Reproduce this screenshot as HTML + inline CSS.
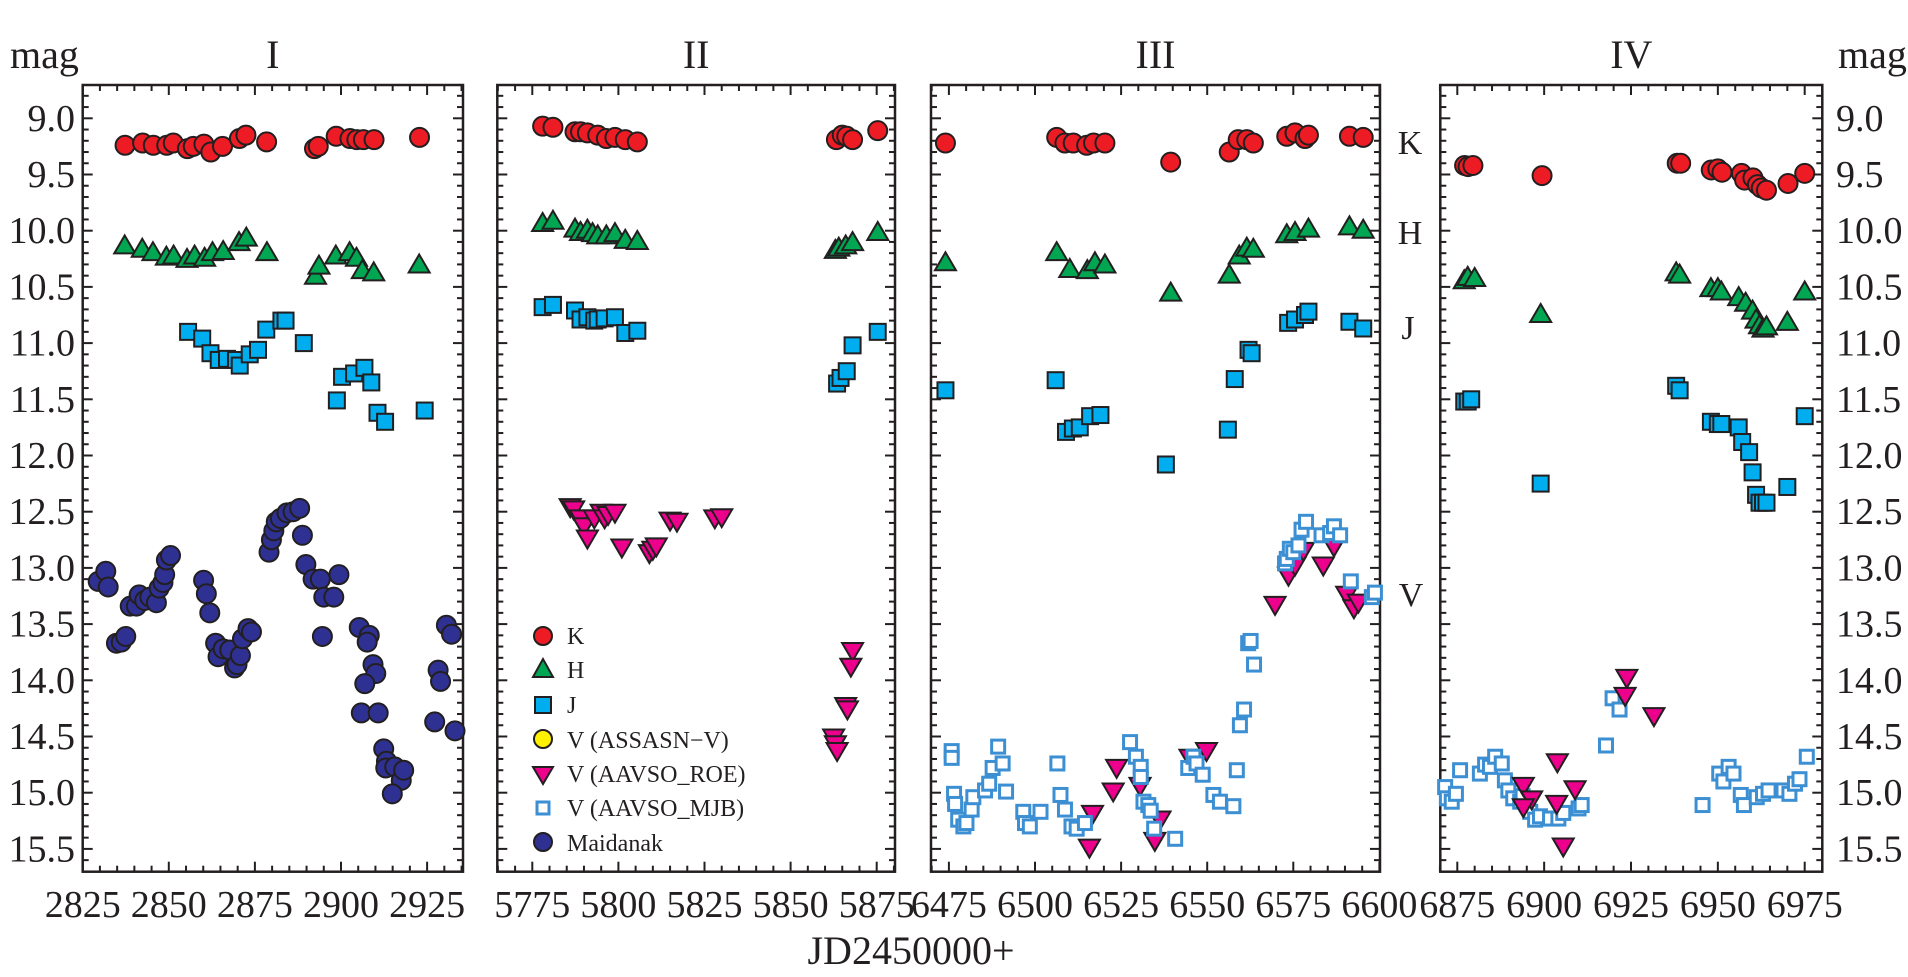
<!DOCTYPE html>
<html><head><meta charset="utf-8">
<style>
html,body{margin:0;padding:0;background:#fff;}
svg{display:block;font-family:"Liberation Serif",serif;}
</style></head>
<body>
<svg id="chart" width="1908" height="977" viewBox="0 0 1908 977" xmlns="http://www.w3.org/2000/svg">
<text x="10" y="68" font-size="40" fill="#231f20">mag</text>
<text x="1838" y="68" font-size="40" fill="#231f20">mag</text>
<text x="911" y="964" font-size="40" text-anchor="middle" fill="#231f20">JD2450000+</text>
<text x="1410" y="154" font-size="34" text-anchor="middle" fill="#231f20">K</text>
<text x="1410" y="244" font-size="34" text-anchor="middle" fill="#231f20">H</text>
<text x="1408" y="339" font-size="34" text-anchor="middle" fill="#231f20">J</text>
<text x="1411" y="606" font-size="34" text-anchor="middle" fill="#231f20">V</text>
<g id="plots"></g>
<g>
<circle cx="543" cy="636" r="9" fill="#ed1c24" stroke="#231f20" stroke-width="2"/>
<text x="567" y="644" font-size="24" fill="#231f20">K</text>
<polygon points="543,659 533,677 553,677" fill="#00a651" stroke="#231f20" stroke-width="2"/>
<text x="567" y="678" font-size="24" fill="#231f20">H</text>
<rect x="535" y="697" width="16" height="16" fill="#00aeef" stroke="#231f20" stroke-width="2"/>
<text x="567" y="713" font-size="24" fill="#231f20">J</text>
<circle cx="543" cy="739" r="9" fill="#fff200" stroke="#231f20" stroke-width="2"/>
<text x="567" y="748" font-size="24" fill="#231f20">V (ASSASN−V)</text>
<polygon points="533,767 553,767 543,784" fill="#ec008c" stroke="#231f20" stroke-width="2"/>
<text x="567" y="782" font-size="24" fill="#231f20">V (AAVSO_ROE)</text>
<rect x="537" y="802" width="12" height="12" fill="#fff" stroke="#3b8fd2" stroke-width="3"/>
<text x="567" y="816" font-size="24" fill="#231f20">V (AAVSO_MJB)</text>
<circle cx="543" cy="842" r="9" fill="#2e3192" stroke="#231f20" stroke-width="2"/>
<text x="567" y="851" font-size="24" fill="#231f20">Maidanak</text>
</g>
</svg>
<script>
// ---------- data (JD-2450000, magnitude) ----------
const K_I=[[2837.3,9.24],[2842.4,9.22],[2845.5,9.24],[2849.4,9.24],[2851.3,9.22],[2855.4,9.27],[2857.1,9.25],[2860.2,9.23],[2862.2,9.30],[2865.6,9.25],[2870.5,9.18],[2872.4,9.15],[2878.4,9.21],[2892.3,9.27],[2893.4,9.25],[2898.6,9.16],[2902.6,9.18],[2904.6,9.19],[2906.5,9.19],[2909.6,9.19],[2922.8,9.17]];
const H_I=[[2837.2,10.14],[2842.3,10.17],[2845.4,10.20],[2849.3,10.24],[2851.4,10.23],[2855.3,10.26],[2857.5,10.23],[2860.4,10.25],[2862.7,10.20],[2865.8,10.19],[2870.4,10.11],[2872.5,10.07],[2878.5,10.20],[2892.6,10.41],[2893.6,10.32],[2898.5,10.23],[2902.5,10.20],[2904.5,10.25],[2906.2,10.36],[2909.5,10.38],[2922.7,10.31]];
const J_I=[[2855.6,10.90],[2859.7,10.96],[2862.1,11.09],[2864.5,11.15],[2866.9,11.14],[2869.5,11.15],[2870.6,11.20],[2873.5,11.10],[2875.9,11.06],[2878.3,10.88],[2882.7,10.80],[2883.9,10.80],[2889.2,11.00],[2898.8,11.51],[2900.3,11.30],[2903.8,11.27],[2906.8,11.22],[2908.8,11.35],[2910.6,11.62],[2912.8,11.70],[2924.3,11.60]];
const MAID_I=[[2829.5,13.12],[2831.7,13.03],[2832.4,13.17],[2834.8,13.67],[2836.2,13.66],[2837.5,13.61],[2838.8,13.34],[2840.6,13.34],[2841.4,13.24],[2843,13.29],[2844.5,13.26],[2846.4,13.31],[2847.2,13.18],[2848.3,13.13],[2848.8,13.06],[2849.3,12.93],[2850.5,12.89],[2860.1,13.11],[2860.9,13.23],[2861.9,13.40],[2863.6,13.67],[2864.3,13.79],[2865.8,13.72],[2867.7,13.73],[2869.1,13.89],[2869.8,13.86],[2870.8,13.78],[2871.4,13.63],[2873,13.54],[2874,13.57],[2879.1,12.86],[2879.8,12.75],[2880.5,12.67],[2881.2,12.59],[2882.4,12.56],[2884.3,12.51],[2886.1,12.50],[2888,12.47],[2888.8,12.71],[2889.8,12.97],[2891.9,13.10],[2894,13.10],[2894.6,13.61],[2895,13.26],[2897.9,13.26],[2899.4,13.06],[2905.3,13.53],[2908.2,13.60],[2907.6,13.66],[2909.3,13.86],[2910.1,13.94],[2906.9,14.03],[2905.9,14.29],[2910.8,14.29],[2912.4,14.61],[2913.2,14.72],[2913,14.78],[2915.6,14.77],[2917.5,14.89],[2918.2,14.80],[2914.9,15.01],[2927.2,14.37],[2928.2,13.91],[2928.9,14.01],[2930.6,13.51],[2932.1,13.59],[2933.1,14.45]];

const K_II=[[5778,9.07],[5781,9.08],[5787.4,9.12],[5789,9.12],[5791,9.13],[5794,9.15],[5796.5,9.18],[5799,9.17],[5802,9.19],[5805.5,9.21],[5863.3,9.19],[5865,9.15],[5866.3,9.16],[5868,9.19],[5875.3,9.11]];
const H_II=[[5778,9.94],[5781,9.92],[5787.4,9.99],[5789,10.02],[5791,10.00],[5792.5,10.03],[5794,10.05],[5796.5,10.05],[5799,10.03],[5802,10.09],[5805.5,10.10],[5863,10.18],[5864,10.16],[5866,10.14],[5868,10.11],[5875.3,10.02]];
const J_II=[[5778,10.68],[5781,10.66],[5787.4,10.71],[5789,10.79],[5791,10.77],[5793,10.80],[5794,10.79],[5796,10.78],[5799,10.77],[5802,10.91],[5805.5,10.89],[5863.5,11.36],[5864.5,11.31],[5866.3,11.25],[5868,11.02],[5875.3,10.90]];
const ROE_II=[[5786,12.45],[5787,12.47],[5789,12.55],[5790,12.62],[5791,12.73],[5793,12.55],[5795,12.50],[5796,12.55],[5797,12.52],[5799,12.50],[5801,12.81],[5809,12.86],[5810,12.83],[5811,12.80],[5815,12.57],[5817,12.58],[5828,12.55],[5830,12.54],[5868,13.73],[5867.5,13.87],[5866,14.22],[5866.5,14.25],[5862.5,14.50],[5863,14.56],[5863.5,14.62]];

const K_III=[[6474,9.22],[6506.3,9.17],[6508.7,9.22],[6511.1,9.22],[6515,9.24],[6517,9.22],[6520.3,9.22],[6539.4,9.39],[6556.4,9.30],[6559,9.19],[6561.5,9.19],[6563.4,9.22],[6573.1,9.16],[6575.5,9.13],[6578.4,9.18],[6579.4,9.15],[6591.3,9.16],[6595.3,9.17]];
const H_III=[[6474,10.29],[6506.3,10.20],[6510.1,10.35],[6515.2,10.36],[6517.4,10.29],[6520.3,10.31],[6539.4,10.56],[6556.4,10.40],[6559.3,10.23],[6561.5,10.16],[6563.4,10.17],[6573.1,10.04],[6575.5,10.02],[6579.4,9.99],[6591.3,9.97],[6595.3,10.00]];
const J_III=[[6474,11.42],[6506,11.33],[6509,11.79],[6511,11.76],[6513,11.75],[6516,11.65],[6519,11.64],[6538,12.08],[6556,11.77],[6558,11.32],[6562,11.06],[6562.9,11.09],[6573.5,10.82],[6575.5,10.79],[6578.4,10.75],[6579.4,10.72],[6591.3,10.81],[6595.3,10.87]];
const ROE_III=[[6515.8,15.48],[6516.7,15.18],[6522.7,14.98],[6523.7,14.77],[6530.5,14.93],[6534.8,15.42],[6536.3,15.23],[6545,14.68],[6549.8,14.62],[6569.7,13.32],[6573.6,13.06],[6575.5,12.97],[6577.9,12.84],[6583.7,12.97],[6586.8,12.80],[6590.5,13.23],[6592.6,13.35],[6593.9,13.30]];
const MJB_III=[[6475.8,14.63],[6475.8,14.69],[6476.5,15.01],[6476.8,15.10],[6477.7,15.24],[6479.2,15.30],[6480.1,15.27],[6481.6,15.15],[6482.1,15.04],[6485.5,14.98],[6486.7,14.92],[6487.7,14.78],[6489.3,14.59],[6490.6,14.74],[6491.6,14.99],[6496.6,15.17],[6497.1,15.27],[6498.5,15.30],[6501.6,15.17],[6506.5,14.74],[6507.4,15.02],[6508.7,15.15],[6510.6,15.30],[6512.1,15.32],[6514.5,15.27],[6527.6,14.55],[6529.3,14.68],[6530.7,14.77],[6530.7,14.86],[6531.5,15.08],[6532.9,15.11],[6533.6,15.16],[6534.6,15.32],[6540.7,15.41],[6544.5,14.78],[6546,14.68],[6546.9,14.74],[6548.7,14.84],[6551.8,15.02],[6553.7,15.08],[6557.6,15.12],[6558.6,14.80],[6559.5,14.40],[6560.7,14.26],[6561.9,13.67],[6562.6,13.65],[6563.6,13.86],[6572.6,12.96],[6573.1,12.92],[6574,12.83],[6575,12.86],[6576.5,12.80],[6577.4,12.66],[6578.7,12.59],[6583.2,12.71],[6585.7,12.69],[6586.8,12.63],[6588.6,12.71],[6591.7,13.12],[6597.8,13.26],[6598.7,13.22]];

const K_IV=[[6877.1,9.42],[6878.1,9.43],[6879.5,9.42],[6899.4,9.51],[6938.3,9.40],[6939.3,9.40],[6948.1,9.46],[6950,9.45],[6951.2,9.48],[6956.8,9.49],[6957.7,9.55],[6960.1,9.53],[6961.4,9.59],[6962.5,9.62],[6964,9.64],[6970.2,9.58],[6975,9.49]];
const H_IV=[[6877,10.45],[6878,10.42],[6880,10.43],[6899,10.75],[6938,10.38],[6939,10.40],[6948,10.52],[6950,10.52],[6951,10.55],[6956,10.60],[6958,10.65],[6960,10.72],[6961,10.80],[6962,10.85],[6963,10.88],[6964,10.86],[6970,10.82],[6975,10.55]];
const J_IV=[[6877,11.52],[6878,11.52],[6879,11.50],[6899,12.25],[6938,11.38],[6939,11.42],[6948,11.70],[6950,11.72],[6951,11.72],[6956,11.75],[6957,11.88],[6959,11.97],[6960,12.15],[6961,12.35],[6962,12.42],[6963,12.42],[6964,12.42],[6970,12.28],[6975,11.65]];
const ROE_IV=[[6894,14.93],[6896.4,15.05],[6894,15.12],[6903.8,14.72],[6903.6,15.09],[6905.5,15.47],[6908.9,14.96],[6923.8,13.97],[6923.3,14.13],[6931.6,14.31]];
const MJB_IV=[[6871.5,14.95],[6872,15.05],[6873.4,15.08],[6874.6,15.01],[6875.8,14.80],[6881.5,14.83],[6883,14.75],[6884.4,14.77],[6885.9,14.68],[6887.8,14.74],[6888.7,14.89],[6889.7,14.98],[6891.1,15.05],[6893.1,15.08],[6893.8,15.03],[6896,15.17],[6897.4,15.24],[6898.8,15.21],[6901.7,15.23],[6904.1,15.23],[6905.5,15.18],[6909.9,15.14],[6910.8,15.11],[6917.8,14.58],[6919.7,14.16],[6921.7,14.26],[6945.6,15.11],[6950.4,14.83],[6951.6,14.90],[6953.1,14.77],[6954.5,14.83],[6956.6,15.02],[6957.5,15.11],[6961.2,15.04],[6963,15.01],[6964.6,14.98],[6968.9,14.98],[6970.6,15.01],[6972.2,14.92],[6973.5,14.88],[6975.6,14.68]];

const xTicksI=["2825","2850","2875","2900","2925"];
const xTicksII=["5775","5800","5825","5850","5875"];
const xTicksIII=["6475","6500","6525","6550","6575","6600"];
const xTicksIV=["6875","6900","6925","6950","6975"];
const yTickLabels=["9.0","9.5","10.0","10.5","11.0","11.5","12.0","12.5","13.0","13.5","14.0","14.5","15.0","15.5"];
const panelTitles=["I","II","III","IV"];

// ---------- layout ----------
const NS="http://www.w3.org/2000/svg";
const INK="#231f20";
const TOP=85, BOTTOM=871.7;
function yScale(m){return 118.3+(m-9)*112.4;}
const panels=[
 {name:"i",title:panelTitles[0],left:82.7,right:463,ref:2825,refPx:82.7,ppd:3.444,d0:2825,d1:2935,ticks:xTicksI,
  series:[["maidanak",MAID_I],["h",H_I],["j",J_I],["k",K_I]]},
 {name:"ii",title:panelTitles[1],left:497.3,right:895,ref:5775,refPx:532.3,ppd:3.444,d0:5765,d1:5880,ticks:xTicksII,
  series:[["roe",ROE_II],["j",J_II],["h",H_II],["k",K_II]]},
 {name:"iii",title:panelTitles[2],left:931,right:1380,ref:6500,refPx:1035,ppd:3.444,d0:6470,d1:6600,ticks:xTicksIII,
  series:[["roe",ROE_III],["mjb",MJB_III],["j",J_III],["h",H_III],["k",K_III]]},
 {name:"iv",title:panelTitles[3],left:1440.3,right:1822.3,ref:6875,refPx:1457.3,ppd:3.474,d0:6870,d1:6980,ticks:xTicksIV,
  series:[["mjb",MJB_IV],["roe",ROE_IV],["j",J_IV],["h",H_IV],["k",K_IV]]}
];
const root=document.getElementById('plots');
function mk(tag,attrs,parent){const e=document.createElementNS(NS,tag);for(const k in attrs)e.setAttribute(k,attrs[k]);(parent||root).appendChild(e);return e;}

function drawMarker(g,type,x,y){
  let e;
  if(type==="k"||type==="maidanak"){
    e=mk('circle',{cx:x,cy:y,r:9.5,fill:type==="k"?"#ed1c24":"#2e3192",stroke:INK,'stroke-width':2},g);
  }else if(type==="h"){
    e=mk('polygon',{points:`${x},${y-11} ${x-10.5},${y+7} ${x+10.5},${y+7}`,fill:"#00a651",stroke:INK,'stroke-width':2},g);
  }else if(type==="roe"){
    e=mk('polygon',{points:`${x-10.5},${y-7} ${x+10.5},${y-7} ${x},${y+11}`,fill:"#ec008c",stroke:INK,'stroke-width':2},g);
  }else if(type==="j"){
    e=mk('rect',{x:x-8,y:y-8,width:16,height:16,fill:"#00aeef",stroke:INK,'stroke-width':2},g);
  }else{
    e=mk('rect',{x:x-6.5,y:y-6.5,width:13,height:13,fill:"#fff",stroke:"#3b8fd2",'stroke-width':3},g);
  }
  
  
}

panels.forEach(p=>{
  const xs=d=>p.refPx+(d-p.ref)*p.ppd;
  const g=mk('g',{});
  
  
  // title
  const t=mk('text',{x:(p.left+p.right)/2,y:68,'font-size':40,'text-anchor':'middle',fill:INK},g);
  t.textContent=p.title;
  
  
  // x ticks
  for(let d=Math.ceil(p.d0/5)*5; d<=p.d1+0.01; d+=5){
    const x=xs(d); if(x<p.left-0.5||x>p.right+0.5) continue;
    const major=(d%25===0), L=major?10:6;
    mk('line',{x1:x,y1:BOTTOM,x2:x,y2:BOTTOM-L,stroke:INK,'stroke-width':2},g);
    mk('line',{x1:x,y1:TOP,x2:x,y2:TOP+L,stroke:INK,'stroke-width':2},g);
  }
  p.ticks.forEach(s=>{
    const lab=mk('text',{x:xs(+s),y:917,'font-size':38,'text-anchor':'middle',fill:INK},g);
    lab.textContent=s;
    
    
  });
  // y ticks
  for(let i=88;i<=156;i++){
    const m=i/10, y=yScale(m); if(y<TOP||y>BOTTOM) continue;
    const major=(i%5===0), L=major?10:6;
    mk('line',{x1:p.left,y1:y,x2:p.left+L,y2:y,stroke:INK,'stroke-width':2},g);
    mk('line',{x1:p.right,y1:y,x2:p.right-L,y2:y,stroke:INK,'stroke-width':2},g);
  }
  // frame
  const fr=mk('rect',{x:p.left,y:TOP,width:p.right-p.left,height:BOTTOM-TOP,fill:'none',stroke:INK,'stroke-width':2.5},g);
  
  
  // series
  p.series.forEach(([type,data])=>{
    const sg=mk('g',{},g);
    
    
    data.forEach(([d,m])=>drawMarker(sg,type,xs(d),yScale(m)));
  });
});
// y tick labels
yTickLabels.forEach(s=>{
  const y=yScale(+s)+12.5;
  const a=mk('text',{x:75,y:y,'font-size':38,'text-anchor':'end',fill:INK});
  a.textContent=s;
  
  
  const b=mk('text',{x:1836,y:y,'font-size':38,'text-anchor':'start',fill:INK});
  b.textContent=s;
  
  
});
</script>
</body></html>
